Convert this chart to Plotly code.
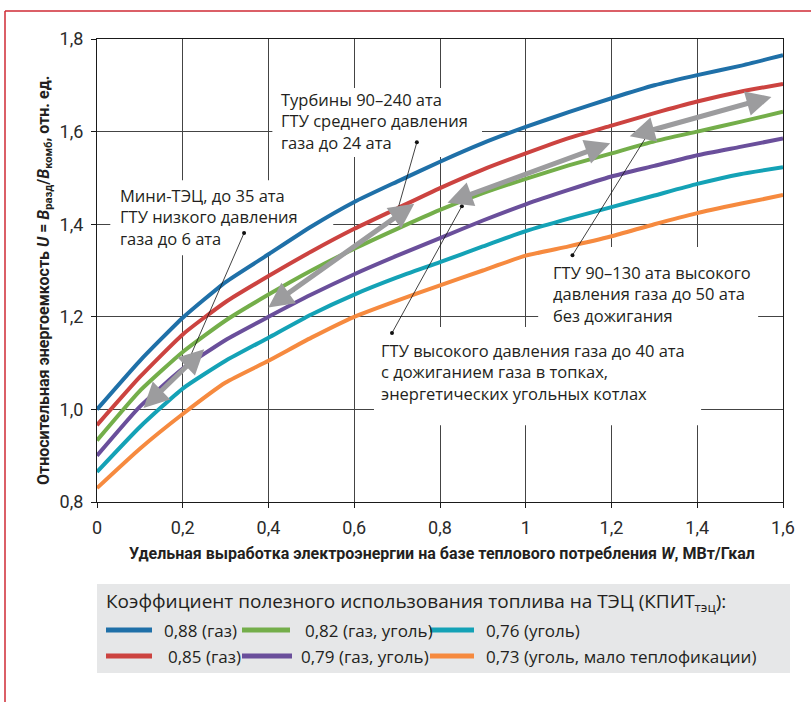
import plotly.graph_objects as go

# ---------------- data ----------------
W = [0.0, 0.1, 0.2, 0.3, 0.4, 0.5, 0.6, 0.7, 0.8, 0.9, 1.0, 1.1, 1.2, 1.3, 1.4, 1.5, 1.6]

u_088 = [1.000, 1.105, 1.198, 1.275, 1.335, 1.395, 1.448, 1.492, 1.535, 1.575, 1.610, 1.642, 1.672, 1.700, 1.722, 1.742, 1.765]
u_085 = [0.966, 1.070, 1.162, 1.232, 1.288, 1.341, 1.390, 1.434, 1.478, 1.518, 1.553, 1.586, 1.613, 1.640, 1.665, 1.686, 1.703]
u_082 = [0.933, 1.040, 1.124, 1.192, 1.248, 1.300, 1.347, 1.390, 1.431, 1.467, 1.498, 1.527, 1.553, 1.579, 1.600, 1.621, 1.643]
u_079 = [0.900, 1.006, 1.088, 1.150, 1.200, 1.248, 1.292, 1.332, 1.370, 1.408, 1.443, 1.474, 1.503, 1.526, 1.549, 1.567, 1.585]
u_076 = [0.865, 0.962, 1.045, 1.105, 1.155, 1.205, 1.248, 1.285, 1.318, 1.352, 1.385, 1.412, 1.437, 1.462, 1.487, 1.508, 1.523]
u_073 = [0.830, 0.915, 0.990, 1.058, 1.105, 1.155, 1.200, 1.235, 1.268, 1.300, 1.332, 1.352, 1.374, 1.400, 1.424, 1.444, 1.463]

series_values = [u_088, u_085, u_082, u_079, u_076, u_073]
series_names = ["0,88 (газ)", "0,85 (газ)", "0,82 (газ, уголь)",
                "0,79 (газ, уголь)", "0,76 (уголь)", "0,73 (уголь, мало теплофикации)"]
series_colors = ["#1f70a8", "#cc4340", "#74ae4a", "#6a4f9b", "#14a2b6", "#f68a3f"]

x_tickvals = [0, 0.2, 0.4, 0.6, 0.8, 1.0, 1.2, 1.4, 1.6]
x_ticktext = ["0", "0,2", "0,4", "0,6", "0,8", "1", "1,2", "1,4", "1,6"]
y_tickvals = [0.8, 1.0, 1.2, 1.4, 1.6, 1.8]
y_ticktext = ["0,8", "1,0", "1,2", "1,4", "1,6", "1,8"]

# double-headed grey arrows: (x_start, y_start, x_end, y_end)
arrows = [
    (0.105, 1.000, 0.250, 1.130),
    (0.396, 1.218, 0.740, 1.444),
    (0.814, 1.445, 1.197, 1.575),
    (1.239, 1.589, 1.573, 1.675),
]

# leader lines (dot to dot)
leaders = [
    ([0.343, 0.207], [1.381, 1.092]),
    ([0.746, 0.697], [1.577, 1.417]),
    ([0.688, 0.851], [1.165, 1.439]),
    ([1.109, 1.288], [1.333, 1.599]),
]

# notes: x of left edge, y of block centre, text
notes = [
    (0.052, 1.4166, "Мини-ТЭЦ, до 35 ата<br>ГТУ низкого давления<br>газа до 6 ата"),
    (0.427, 1.622, "Турбины 90–240 ата<br>ГТУ среднего давления<br>газа до 24 ата"),
    (1.061, 1.2503, "ГТУ 90–130 ата высокого<br>давления газа до 50 ата<br>без дожигания"),
    (0.660, 1.0814, "ГТУ высокого давления газа до 40 ата<br>с дожиганием газа в топках,<br>энергетических угольных котлах"),
]

# white boxes that interrupt the grid behind the notes (x0, x1, y0, y1)
note_boxes = [
    (0.031, 0.551, 1.333, 1.495),
    (0.409, 0.898, 1.545, 1.694),
    (1.029, 1.542, 1.178, 1.351),
    (0.646, 1.409, 0.966, 1.178),
]

# ---------------- layout geometry ----------------
W_PX, H_PX = 811, 702
ML, MR, MT, MB = 97, 28, 39, 200
PW, PH = W_PX - ML - MR, H_PX - MT - MB


def px(xpix):
    return (xpix - ML) / PW


def py(ypix):
    return (H_PX - MB - ypix) / PH


TXT = "#231f20"
FONT = "Open Sans"

fig = go.Figure()

for vals, name, col in zip(series_values, series_names, series_colors):
    fig.add_trace(go.Scatter(x=W, y=vals, mode="lines", name=name,
                             line=dict(color=col, width=4, shape="spline", smoothing=0.5),
                             showlegend=False, hoverinfo="skip"))

for lx, ly in leaders:
    fig.add_trace(go.Scatter(x=lx, y=ly, mode="lines+markers",
                             line=dict(color="#111111", width=0.8),
                             marker=dict(color="#111111", size=4),
                             showlegend=False, hoverinfo="skip"))

shapes = []
for x0, x1, y0, y1 in note_boxes:
    shapes.append(dict(type="rect", xref="x", yref="y", x0=x0, x1=x1, y0=y0, y1=y1,
                       fillcolor="white", line=dict(width=0), layer="between"))

# red frame (top and left edges of the page frame)
shapes.append(dict(type="line", xref="paper", yref="paper",
                   x0=px(5), x1=px(5), y0=py(11), y1=py(710),
                   line=dict(color="#cf2a35", width=1.5)))
shapes.append(dict(type="line", xref="paper", yref="paper",
                   x0=px(5), x1=px(820), y0=py(11), y1=py(11),
                   line=dict(color="#cf2a35", width=1.5)))

# legend panel
shapes.append(dict(type="rect", xref="paper", yref="paper",
                   x0=px(97), x1=px(790), y0=py(584), y1=py(673),
                   fillcolor="#e6e7e8", line=dict(width=0), layer="above"))

annotations = []

# legend entries (manual layout, 3 columns x 2 rows)
legend_order = [0, 2, 4, 1, 3, 5]
sample_x = [(106, 152), (242, 290), (430, 474), (106, 152), (242, 292), (430, 474)]
label_x = [162, 303, 484, 166, 299, 484]
rows_px = [630, 656]
for k, idx in enumerate(legend_order):
    yrow = rows_px[k // 3]
    sx0, sx1 = sample_x[k]
    shapes.append(dict(type="line", xref="paper", yref="paper",
                       x0=px(sx0), x1=px(sx1), y0=py(yrow), y1=py(yrow),
                       line=dict(color=series_colors[idx], width=5)))
    annotations.append(dict(xref="paper", yref="paper", x=px(label_x[k]), y=py(yrow),
                            xanchor="left", yanchor="middle", showarrow=False,
                            text=series_names[idx],
                            font=dict(family=FONT, size=17, color=TXT)))

annotations.append(dict(xref="paper", yref="paper", x=px(104), y=py(602),
                        xanchor="left", yanchor="middle", showarrow=False,
                        text="Коэффициент полезного использования топлива на ТЭЦ (КПИТ<sub>тэц</sub>):",
                        font=dict(family=FONT, size=19, color=TXT)))

# notes
for nx, ny, t in notes:
    annotations.append(dict(xref="x", yref="y", x=nx, y=ny, xanchor="left", yanchor="middle",
                            align="left", showarrow=False, text=t, borderpad=0,
                            font=dict(family=FONT, size=16.5, color=TXT)))

# arrows
for x0, y0, x1, y1 in arrows:
    annotations.append(dict(xref="x", yref="y", axref="x", ayref="y",
                            x=x1, y=y1, ax=x0, ay=y0, text="", showarrow=True,
                            arrowhead=2, startarrowhead=2, arrowside="end+start",
                            arrowsize=1.0, startarrowsize=1.0, arrowwidth=5,
                            arrowcolor="#9c9c9e", standoff=0, startstandoff=0))

# axis titles
annotations.append(dict(xref="paper", yref="paper", x=px(442), y=py(553),
                        xanchor="center", yanchor="middle", showarrow=False,
                        text="<b>Удельная выработка электроэнергии на базе теплового потребления <i>W</i>, МВт/Гкал</b>",
                        font=dict(family="Roboto", size=16, color=TXT)))
annotations.append(dict(xref="paper", yref="paper", x=px(44), y=py(281),
                        xanchor="center", yanchor="middle", showarrow=False, textangle=-90,
                        text="<b>Относительная энергоемкость <i>U</i> = <i>B</i><sub>разд</sub>/<i>B</i><sub>комб</sub>, отн. ед.</b>",
                        font=dict(family="Roboto", size=16, color=TXT)))

axis_common = dict(showgrid=True, gridcolor="#444444", gridwidth=1,
                   showline=True, linecolor="#1a1a1a", linewidth=1.2, mirror=True,
                   ticks="outside", ticklen=5, tickcolor="#1a1a1a", tickwidth=1,
                   zeroline=False, tickfont=dict(family="Roboto", size=18, color="#2a2a2a"))

fig.update_layout(
    width=W_PX, height=H_PX,
    margin=dict(l=ML, r=MR, t=MT, b=MB, autoexpand=False),
    paper_bgcolor="white", plot_bgcolor="white",
    showlegend=False,
    xaxis=dict(range=[0, 1.6], tickvals=x_tickvals, ticktext=x_ticktext,
               ticklabelstandoff=4, **axis_common),
    yaxis=dict(range=[0.8, 1.8], tickvals=y_tickvals, ticktext=y_ticktext,
               ticklabelstandoff=4, **axis_common),
    shapes=shapes,
    annotations=annotations,
)

fig.write_html("out.html", config={"displayModeBar": False},
               post_script="document.body.style.margin='0px';")
